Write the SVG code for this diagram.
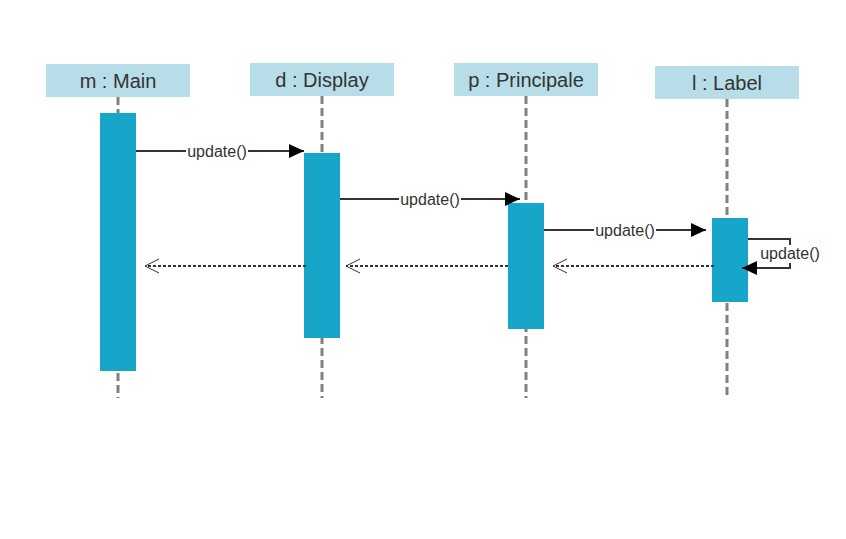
<svg xmlns="http://www.w3.org/2000/svg" width="846" height="539" viewBox="0 0 846 539">
<defs>
<style>
.hdr{fill:#b7dde8;}
.hdrt{font-family:"Liberation Sans",Arial,sans-serif;font-size:20px;fill:#333;text-anchor:middle;}
.life{stroke:#808080;stroke-width:3;stroke-dasharray:8,4;fill:none;}
.act{fill:#17a6ca;}
.msg{stroke:#333;stroke-width:2;fill:none;}
.ret{stroke:#333;stroke-width:2;stroke-dasharray:3,2;fill:none;}
.lbl{font-family:"Liberation Sans",Arial,sans-serif;font-size:16px;fill:#333;text-anchor:middle;}
.bg{fill:#fff;}
</style>
<marker id="filled" markerWidth="15" markerHeight="14" refX="15" refY="7" orient="auto" markerUnits="userSpaceOnUse">
<path d="M0,0 L15,7 L0,14 Z" fill="#000"/>
</marker>
<marker id="open" markerWidth="16" markerHeight="16" refX="15" refY="8" orient="auto" markerUnits="userSpaceOnUse">
<path d="M1,1 L15,8 L1,15" fill="none" stroke="#333" stroke-width="1"/>
</marker>
</defs>
<rect width="846" height="539" fill="#fff"/>
<g id="main">
<rect class="hdr" x="46" y="64" width="144" height="33"/>
<text class="hdrt" x="118" y="88">m : Main</text>
<line class="life" x1="118" y1="97" x2="118" y2="398"/>
<rect class="act" x="100" y="113" width="36" height="258"/>
</g>
<g id="display">
<rect class="hdr" x="250" y="63" width="144" height="33"/>
<text class="hdrt" x="322" y="87">d : Display</text>
<line class="life" x1="322" y1="96" x2="322" y2="398"/>
<rect class="act" x="304" y="153" width="36" height="185"/>
</g>
<g id="principale">
<rect class="hdr" x="454" y="63" width="144" height="33"/>
<text class="hdrt" x="526" y="87">p : Principale</text>
<line class="life" x1="526" y1="96" x2="526" y2="398"/>
<rect class="act" x="508" y="203" width="36" height="126"/>
</g>
<g id="label">
<rect class="hdr" x="655" y="66" width="144" height="33"/>
<text class="hdrt" x="727" y="90">l : Label</text>
<line class="life" x1="727" y1="99" x2="727" y2="395"/>
<rect class="act" x="712" y="218" width="36" height="84"/>
</g>
<g id="connectors">
<line class="msg" x1="136" y1="151" x2="304" y2="151" marker-end="url(#filled)"/>
<rect class="bg" x="186" y="142" width="62" height="18"/>
<text class="lbl" x="217" y="157">update()</text>
<line class="msg" x1="340" y1="199" x2="520" y2="199" marker-end="url(#filled)"/>
<rect class="bg" x="399" y="190" width="62" height="18"/>
<text class="lbl" x="430" y="205">update()</text>
<line class="msg" x1="544" y1="230" x2="706" y2="230" marker-end="url(#filled)"/>
<rect class="bg" x="594" y="221" width="62" height="18"/>
<text class="lbl" x="625" y="236">update()</text>
<path class="msg" d="M748,239 L790,239 L790,268 L742,268" marker-end="url(#filled)"/>
<rect class="bg" x="759" y="245" width="62" height="18"/>
<text class="lbl" x="790" y="259">update()</text>
<line class="ret" x1="306" y1="266" x2="145" y2="266" marker-end="url(#open)"/>
<line class="ret" x1="508" y1="266" x2="346" y2="266" marker-end="url(#open)"/>
<line class="ret" x1="714" y1="266" x2="553" y2="266" marker-end="url(#open)"/>
</g>
</svg>
